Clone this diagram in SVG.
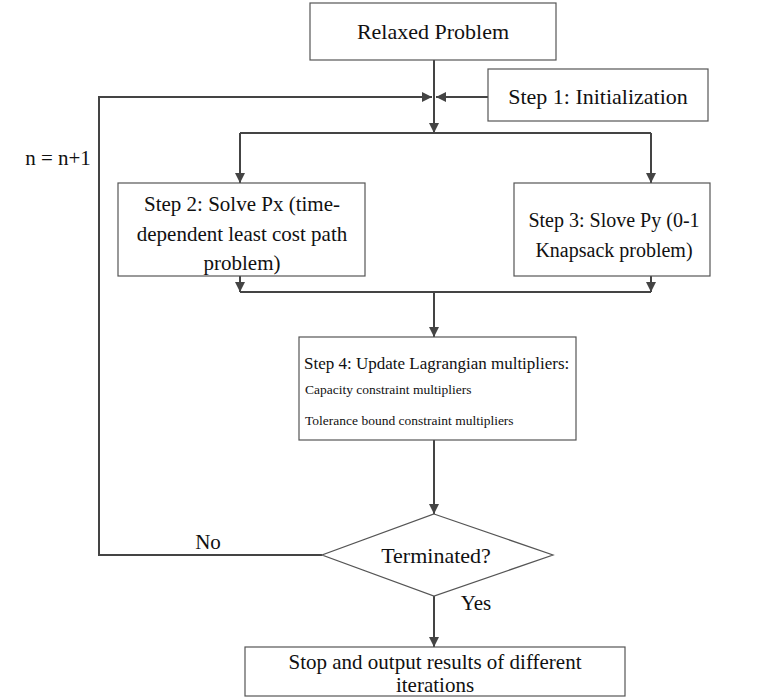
<svg xmlns="http://www.w3.org/2000/svg" width="783" height="698" viewBox="0 0 783 698">
<style>
.box{fill:#fff;stroke:#555;stroke-width:1.2}
.ln{fill:none;stroke:#444;stroke-width:2}
.t{font-family:"Liberation Serif","Times New Roman",serif;font-size:22px;fill:#111}
.m{font-family:"Liberation Serif","Times New Roman",serif;font-size:21px;fill:#111}
.k{font-family:"Liberation Serif","Times New Roman",serif;font-size:20px;fill:#111}
.h{font-family:"Liberation Serif","Times New Roman",serif;font-size:17px;fill:#111}
.s{font-family:"Liberation Serif","Times New Roman",serif;font-size:13.5px;fill:#111}
</style>
<defs>
<marker id="ah" viewBox="0 0 10 10" refX="10" refY="5" markerWidth="5" markerHeight="5" orient="auto" markerUnits="strokeWidth">
<path d="M0,0 L10,5 L0,10 z" fill="#444"/>
</marker>
</defs>
<g id="connectors">
<line class="ln" x1="434" y1="60" x2="434" y2="97"/>
<line class="ln" x1="488" y1="97" x2="436" y2="97" marker-end="url(#ah)"/>
<polyline class="ln" points="322,555 99,555 99,97 432,97" marker-end="url(#ah)"/>
<line class="ln" x1="434" y1="97" x2="434" y2="133" marker-end="url(#ah)"/>
<line class="ln" x1="240" y1="133" x2="651" y2="133"/>
<line class="ln" x1="240" y1="133" x2="240" y2="183" marker-end="url(#ah)"/>
<line class="ln" x1="651" y1="133" x2="651" y2="183" marker-end="url(#ah)"/>
<line class="ln" x1="240" y1="276" x2="240" y2="292" marker-end="url(#ah)"/>
<line class="ln" x1="651" y1="276" x2="651" y2="292" marker-end="url(#ah)"/>
<line class="ln" x1="240" y1="292" x2="651" y2="292"/>
<line class="ln" x1="434" y1="292" x2="434" y2="337" marker-end="url(#ah)"/>
<line class="ln" x1="434" y1="440" x2="434" y2="514" marker-end="url(#ah)"/>
<line class="ln" x1="434" y1="596" x2="434" y2="647" marker-end="url(#ah)"/>
<text class="m" x="208" y="549" text-anchor="middle">No</text>
<text class="m" x="476" y="610" text-anchor="middle">Yes</text>
<text class="m" x="58" y="165" text-anchor="middle">n = n+1</text>
</g>
<g id="relaxed">
<rect class="box" x="310" y="3" width="246" height="57"/>
<text class="t" x="433" y="39" text-anchor="middle">Relaxed Problem</text>
</g>
<g id="step1">
<rect class="box" x="488" y="69" width="220" height="52"/>
<text class="t" x="598" y="104" text-anchor="middle">Step 1: Initialization</text>
</g>
<g id="step2">
<rect class="box" x="118" y="183" width="247" height="93"/>
<text class="m" text-anchor="middle"><tspan x="242" y="211">Step 2: Solve Px (time-</tspan><tspan x="242" y="241">dependent least cost path</tspan><tspan x="242" y="270">problem)</tspan></text>
</g>
<g id="step3">
<rect class="box" x="514" y="183" width="196" height="93"/>
<text class="k" text-anchor="middle"><tspan x="614" y="227">Step 3: Slove Py (0-1</tspan><tspan x="614" y="257">Knapsack problem)</tspan></text>
</g>
<g id="step4">
<rect class="box" x="299" y="337" width="277" height="103"/>
<text class="h" x="304" y="369">Step 4: Update Lagrangian multipliers:</text>
<text class="s" x="305" y="394">Capacity constraint multipliers</text>
<text class="s" x="305" y="425">Tolerance bound constraint multipliers</text>
</g>
<g id="decision">
<polygon class="box" points="434,514 553,555 434,596 322,555"/>
<text class="t" x="436" y="563" text-anchor="middle">Terminated?</text>
</g>
<g id="stop">
<rect class="box" x="245" y="647" width="380" height="49"/>
<text class="m" text-anchor="middle"><tspan x="435" y="669">Stop and output results of different</tspan><tspan x="435" y="692">iterations</tspan></text>
</g>
</svg>
